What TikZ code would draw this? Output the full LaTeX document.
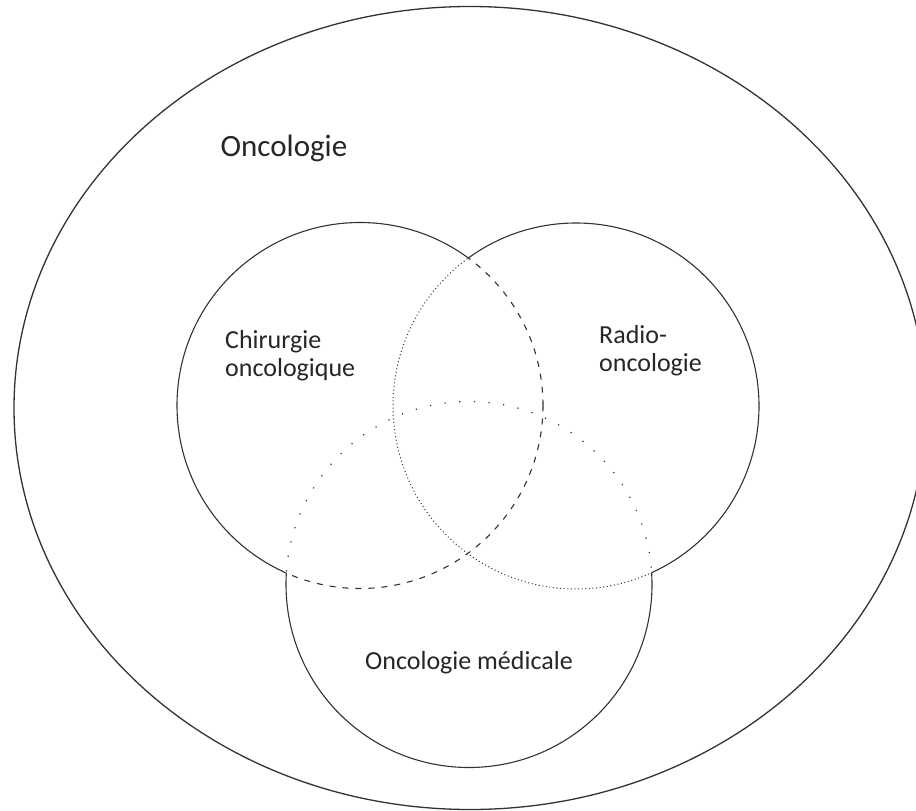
\documentclass[tikz,border=0pt]{standalone}
\usepackage{fontspec}
\setmainfont{Carlito}
\begin{document}
\begin{tikzpicture}[x=1pt,y=-1pt,
  ink/.style={draw=black!80, line width=1.1pt},
  innerdash/.style={ink, dash pattern=on 6pt off 7pt},
  innerfine/.style={ink, line width=1pt, dash pattern=on 1pt off 2.6pt},
  innersparse/.style={ink, line width=1.2pt, dash pattern=on 1.2pt off 13.5pt},
  label/.style={anchor=base west, inner sep=0pt, text=black!85},
  biglabel/.style={label, font=\fontsize{31}{34}\selectfont},
  smalllabel/.style={label, font=\fontsize{26}{28.4}\selectfont}]
\useasboundingbox (0,0) rectangle (916,811);
\fill[white] (0,0) rectangle (916,811);

% circle centres and common radius
\coordinate (cL) at (360,405.5);
\coordinate (cR) at (576,406);
\coordinate (cB) at (469,584.5);
\def\rad{183}

% outer field
\coordinate (cO) at (470,408);
\draw[ink, line width=1.3pt] (cO) ellipse [x radius=456, y radius=401.5];

% solid outline of the union: each circle outside the other two
\begin{scope}[even odd rule]
  \clip (-100,-100) rectangle (1100,1000) (cR) circle[radius=\rad];
  \clip (-100,-100) rectangle (1100,1000) (cB) circle[radius=\rad];
  \draw[ink] (cL) circle[radius=\rad];
\end{scope}
\begin{scope}[even odd rule]
  \clip (-100,-100) rectangle (1100,1000) (cL) circle[radius=\rad];
  \clip (-100,-100) rectangle (1100,1000) (cB) circle[radius=\rad];
  \draw[ink] (cR) circle[radius=\rad];
\end{scope}
\begin{scope}[even odd rule]
  \clip (-100,-100) rectangle (1100,1000) (cL) circle[radius=\rad];
  \clip (-100,-100) rectangle (1100,1000) (cR) circle[radius=\rad];
  \draw[ink] (cB) circle[radius=\rad];
\end{scope}

% inner arcs: surgery dashed, radiotherapy finely dotted, medical sparsely dotted
\begin{scope}[nonzero rule]
  \clip (cR) circle[radius=\rad] (cB) circle[radius=\rad];
  \draw[innerdash] (cL) circle[radius=\rad];
\end{scope}
\begin{scope}[nonzero rule]
  \clip (cL) circle[radius=\rad] (cB) circle[radius=\rad];
  \draw[innerfine] (cR) circle[radius=\rad];
\end{scope}
\begin{scope}[nonzero rule]
  \clip (cL) circle[radius=\rad] (cR) circle[radius=\rad];
  \draw[innersparse] (cB) circle[radius=\rad];
\end{scope}

% labels
\node[biglabel] (onco) at (220.5,156) {Oncologie};
\node[smalllabel] (chir1) at (225,348.3) {Chirurgie};
\node[smalllabel] (chir2) at (225,376.7) {oncologique};
\node[smalllabel] (radio1) at (599,343.3) {Radio-};
\node[smalllabel] (radio2) at (599,371.7) {oncologie};
\node[smalllabel] (medic) at (365,669) {Oncologie médicale};
\end{tikzpicture}
\end{document}
